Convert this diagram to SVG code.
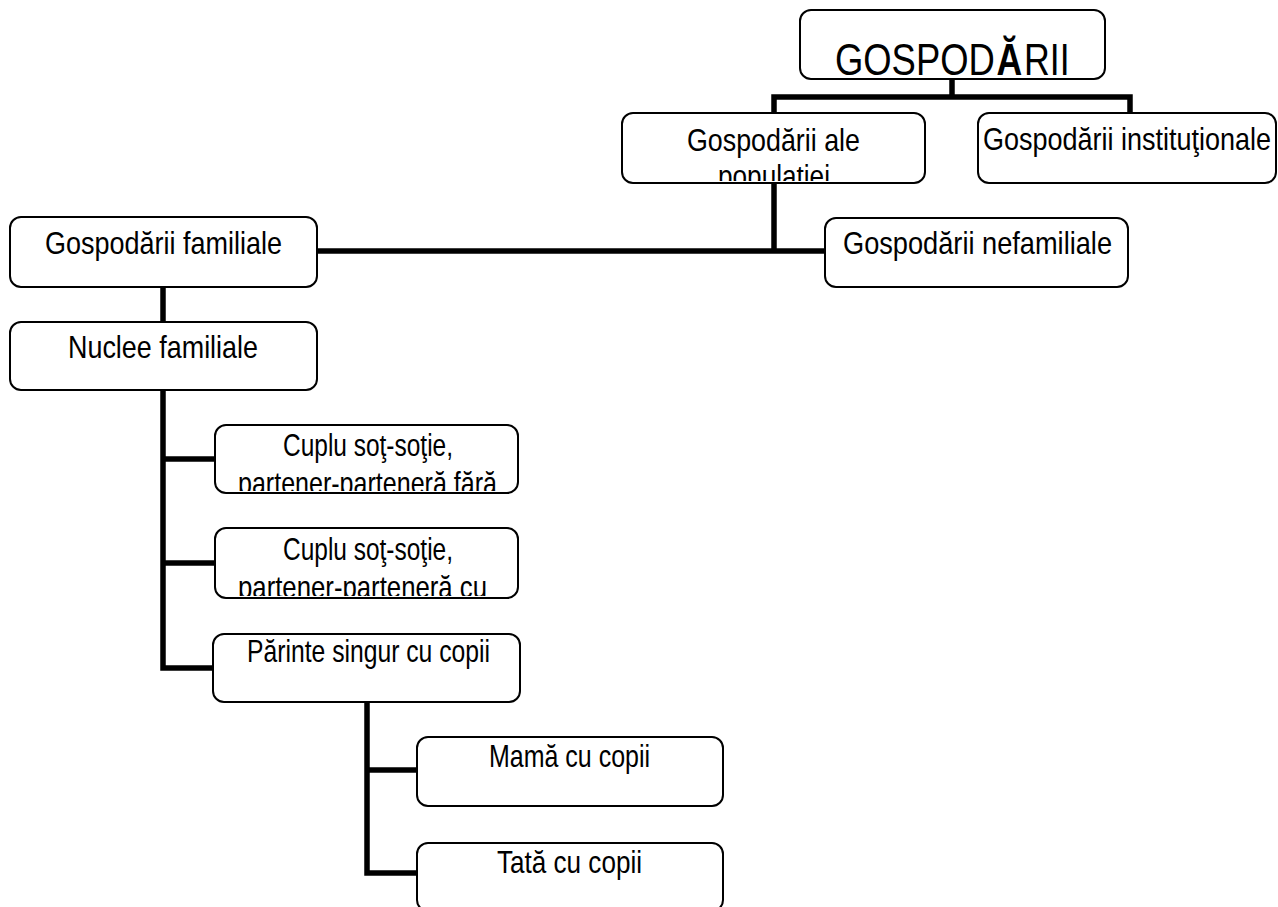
<svg xmlns="http://www.w3.org/2000/svg" width="1278" height="907" viewBox="0 0 1278 907">
<style>
.box{fill:#fff;stroke:#000;stroke-width:2}
.t{font-family:"Liberation Sans",Arial,sans-serif;font-size:31px;fill:#000}
.big{font-size:44px}
.con{fill:none;stroke:#000;stroke-width:5.5;stroke-linejoin:miter;stroke-linecap:butt}
</style>
<defs>
<clipPath id="cpAle"><rect x="623" y="114" width="301" height="67"/></clipPath>
<clipPath id="cpC1"><rect x="216" y="426" width="301" height="65"/></clipPath>
<clipPath id="cpC2"><rect x="216" y="529" width="301" height="67"/></clipPath>
</defs>
<rect width="1278" height="907" fill="#fff"/>
<g id="connectors">
<path class="con" d="M952,79 V97"/>
<path class="con" d="M774,113 V97 H1130 V113"/>
<path class="con" d="M774,183 V251"/>
<path class="con" d="M317,251 H825"/>
<path class="con" d="M163,287 V322"/>
<path class="con" d="M163,390 V668 H213"/>
<path class="con" d="M163,459 H215"/>
<path class="con" d="M163,563 H215"/>
<path class="con" d="M367,702 V873 H417"/>
<path class="con" d="M367,770 H417"/>
</g>
<g id="gospodarii">
<rect class="box" x="800" y="10" width="305" height="69" rx="11"/>
<text class="t big" transform="translate(835 75) scale(0.83 1)" textLength="192.5" lengthAdjust="spacingAndGlyphs">GOSPOD</text>
<text class="t big" transform="translate(996.5 75) scale(0.83 1)" font-weight="bold" textLength="31" lengthAdjust="spacingAndGlyphs">Ă</text>
<text class="t big" transform="translate(1024 75) scale(0.83 1)" textLength="55" lengthAdjust="spacingAndGlyphs">RII</text>
</g>
<g id="ale-populatiei">
<rect class="box" x="622" y="113" width="303" height="70" rx="11"/>
<g clip-path="url(#cpAle)">
<text class="t" transform="translate(687 151) scale(0.83 1)" textLength="208.4" lengthAdjust="spacingAndGlyphs">Gospodării ale</text>
<text class="t" transform="translate(718 187) scale(0.83 1)" textLength="134.9" lengthAdjust="spacingAndGlyphs">populaţiei</text>
</g>
</g>
<g id="institutionale">
<rect class="box" x="978" y="113" width="298" height="70" rx="11"/>
<text class="t" transform="translate(983 150) scale(0.83 1)" textLength="347" lengthAdjust="spacingAndGlyphs">Gospodării instituţionale</text>
</g>
<g id="familiale">
<rect class="box" x="10" y="217" width="307" height="70" rx="11"/>
<text class="t" transform="translate(45 254) scale(0.83 1)" textLength="285.5" lengthAdjust="spacingAndGlyphs">Gospodării familiale</text>
</g>
<g id="nefamiliale">
<rect class="box" x="825" y="218" width="303" height="69" rx="11"/>
<text class="t" transform="translate(843 254) scale(0.83 1)" textLength="324.1" lengthAdjust="spacingAndGlyphs">Gospodării nefamiliale</text>
</g>
<g id="nuclee">
<rect class="box" x="10" y="322" width="307" height="68" rx="11"/>
<text class="t" transform="translate(68 358) scale(0.83 1)" textLength="228.9" lengthAdjust="spacingAndGlyphs">Nuclee familiale</text>
</g>
<g id="cuplu-fara">
<rect class="box" x="215" y="425" width="303" height="68" rx="11"/>
<g clip-path="url(#cpC1)">
<text class="t" transform="translate(283 456) scale(0.83 1)" textLength="204.8" lengthAdjust="spacingAndGlyphs">Cuplu soţ-soţie,</text>
<text class="t" transform="translate(238 494) scale(0.83 1)" textLength="312" lengthAdjust="spacingAndGlyphs">partener-parteneră fără</text>
</g>
</g>
<g id="cuplu-cu">
<rect class="box" x="215" y="528" width="303" height="70" rx="11"/>
<g clip-path="url(#cpC2)">
<text class="t" transform="translate(283 560) scale(0.83 1)" textLength="204.8" lengthAdjust="spacingAndGlyphs">Cuplu soţ-soţie,</text>
<text class="t" transform="translate(238 598) scale(0.83 1)" textLength="300" lengthAdjust="spacingAndGlyphs">partener-parteneră cu</text>
</g>
</g>
<g id="parinte">
<rect class="box" x="213" y="634" width="307" height="68" rx="11"/>
<text class="t" transform="translate(247 662) scale(0.83 1)" textLength="292.8" lengthAdjust="spacingAndGlyphs">Părinte singur cu copii</text>
</g>
<g id="mama">
<rect class="box" x="417" y="737" width="306" height="69" rx="11"/>
<text class="t" transform="translate(489 767) scale(0.83 1)" textLength="194" lengthAdjust="spacingAndGlyphs">Mamă cu copii</text>
</g>
<g id="tata">
<rect class="box" x="417" y="843" width="306" height="68" rx="11"/>
<text class="t" transform="translate(497 873) scale(0.83 1)" textLength="174.7" lengthAdjust="spacingAndGlyphs">Tată cu copii</text>
</g>
</svg>
